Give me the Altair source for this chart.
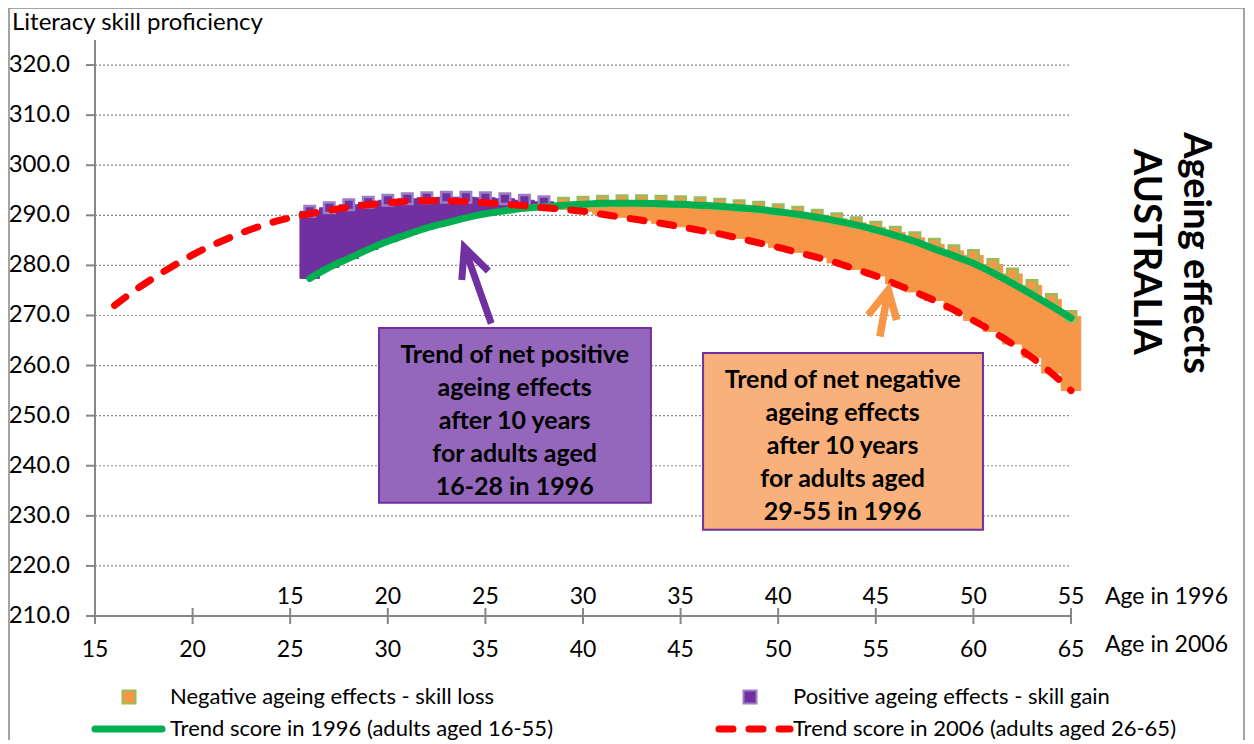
import altair as alt
import pandas as pd

FONT = "Lato"
GREY = "#868686"
PURPLE = "#7030A0"
ORANGE = "#F79646"
GREEN = "#00B050"
RED = "#FF0000"

# ---- data ----
ages_2006 = list(range(16, 66))
trend_2006 = [272.0, 274.9, 277.5, 279.9, 282.1, 284.0, 285.7, 287.2, 288.5, 289.5,
              290.3, 291.0, 291.6, 292.1, 292.5, 292.8, 292.9, 292.9, 292.7, 292.5,
              292.2, 291.9, 291.5, 291.2, 290.8, 290.2, 289.6, 289.0, 288.4, 287.7,
              287.0, 286.3, 285.4, 284.5, 283.6, 282.6, 281.6, 280.5, 279.2, 277.9,
              276.3, 274.7, 273.0, 271.1, 269.0, 266.8, 264.3, 261.6, 258.5, 255.0]

ages_1996 = list(range(16, 56))
trend_1996 = [277.4, 279.6, 281.4, 283.2, 284.8, 286.2, 287.5, 288.5, 289.5, 290.3,
              290.9, 291.4, 291.7, 292.0, 292.2, 292.4, 292.4, 292.4, 292.3, 292.2,
              292.0, 291.8, 291.5, 291.2, 290.7, 290.2, 289.6, 288.9, 288.1, 287.1,
              286.0, 284.8, 283.3, 281.9, 280.4, 278.5, 276.4, 274.2, 271.9, 269.5]

# top of the ageing-effect columns (markers), by 1996 age 16..55
effect_top = [290.8, 291.5, 292.1, 292.6, 293.0, 293.3, 293.5, 293.6, 293.6, 293.5,
              293.3, 293.0, 292.7, 292.4, 292.6, 292.8, 292.9, 292.9, 292.8, 292.7,
              292.5, 292.2, 291.9, 291.6, 291.1, 290.6, 290.0, 289.3, 288.5, 287.6,
              286.6, 285.5, 284.2, 282.9, 282.0, 280.2, 278.3, 276.0, 273.2, 269.8]

x_ticks = [15, 20, 25, 30, 35, 40, 45, 50, 55, 60, 65]
labels_1996 = [15, 20, 25, 30, 35, 40, 45, 50, 55]
y_ticks = [210, 220, 230, 240, 250, 260, 270, 280, 290, 300, 310, 320]

box_names = ["positive", "negative"]
box_x0 = [29.55, 46.15]
box_x1 = [43.48, 60.49]
box_y0 = [232.6, 227.2]
box_y1 = [267.5, 262.5]
box_fill = ["#9467BD", "#F9B07A"]
box_text = ["Trend of net positive\nageing effects\nafter 10 years\nfor adults aged\n16-28 in 1996",
            "Trend of net negative\nageing effects\nafter 10 years\nfor  adults aged\n29-55 in 1996"]
box_tx = [36.5, 53.3]
box_ty = [262.1, 257.1]   # first text line

# arrows: shaft bottom, tip, left wing, right wing
arrow_purple_x = [35.30, 33.92, 33.79, 35.15]
arrow_purple_y = [268.4, 283.6, 277.1, 278.9]
arrow_orange_x = [55.21, 55.64, 54.61, 56.07]
arrow_orange_y = [265.8, 275.1, 270.1, 269.1]

# ---- tables ----
df_red = pd.DataFrame({"age": ages_2006, "score": trend_2006})
df_green = pd.DataFrame({"age": [a + 10 for a in ages_1996], "score": trend_1996})
rows = []
for a, g, t in zip(ages_1996, trend_1996, effect_top):
    a06 = a + 10
    r = trend_2006[ages_2006.index(a06)]
    kind = "Positive" if a <= 28 else "Negative"
    low = g if kind == "Positive" else r
    rows.append({"age": a06, "x0": a06 - 0.5, "x1": a06 + 0.5, "low": low, "high": t, "kind": kind})
df_bars = pd.DataFrame(rows)

df_boxes = pd.DataFrame({"name": box_names, "x0": box_x0, "x1": box_x1, "y0": box_y0,
                         "y1": box_y1, "fill": box_fill, "text": box_text,
                         "tx": box_tx, "ty": box_ty})


def arrow_df(xs, ys):
    return pd.DataFrame({
        "x": [xs[0], xs[1], xs[2], xs[1], xs[3]],
        "y": [ys[0], ys[1], ys[2], ys[1], ys[3]],
        "part": ["shaft", "shaft", "head", "head", "head"],
        "ord": [0, 1, 0, 1, 2],
    })


df_arrow_p = arrow_df(arrow_purple_x, arrow_purple_y)
df_arrow_o = arrow_df(arrow_orange_x, arrow_orange_y)

xscale = alt.Scale(domain=[15, 65], nice=False, zero=False)
yscale = alt.Scale(domain=[210, 325], nice=False, zero=False)

W, H = 976, 576
ONE = pd.DataFrame({"a": [0]})


def X(f):
    return alt.X(f, scale=xscale, axis=None)


def Y(f):
    return alt.Y(f, scale=yscale, axis=None)


def px_text(txt, x, y, size, align="left", weight="normal", angle=0):
    return alt.Chart(pd.DataFrame({"t": [txt]})).mark_text(
        font=FONT, fontSize=size, fontWeight=weight, color="black", align=align,
        baseline="middle", angle=angle).encode(x=alt.value(x), y=alt.value(y), text="t:N")


def px_rule(x1, x2, y1, y2, **kw):
    return alt.Chart(ONE).mark_rule(**kw).encode(
        x=alt.value(x1), x2=alt.value(x2), y=alt.value(y1), y2=alt.value(y2))


# ---- axes drawn by hand through the scales ----
df_yt = pd.DataFrame({"v": y_ticks})
df_xt = pd.DataFrame({"v": x_ticks})

grid = alt.Chart(df_yt).transform_filter("datum.v > 210").mark_rule(
    color="#8a8a8a", strokeWidth=1.2, strokeDash=[2, 2]).encode(
    y=Y("v:Q"), x=alt.value(0), x2=alt.value(W))
y_tick = alt.Chart(df_yt).mark_rule(color=GREY, strokeWidth=2).encode(
    y=Y("v:Q"), x=alt.value(-9), x2=alt.value(0))
y_lab = alt.Chart(df_yt).mark_text(font=FONT, fontSize=24, color="black", align="right",
                                   baseline="middle").encode(
    y=Y("v:Q"), x=alt.value(-25), text=alt.Text("v:Q", format=".1f"))
y_dom = px_rule(0, 0, 0, H, color=GREY, strokeWidth=2)
x_dom = px_rule(0, W, H, H, color=GREY, strokeWidth=2)
x_tick = alt.Chart(df_xt).mark_rule(color=GREY, strokeWidth=2).encode(
    x=X("v:Q"), y=alt.value(H - 8), y2=alt.value(H + 8))
x_lab = alt.Chart(df_xt).mark_text(font=FONT, fontSize=23, color="black", align="center",
                                   baseline="middle").encode(
    x=X("v:Q"), y=alt.value(H + 34), text=alt.Text("v:Q", format="d"))
lab96 = alt.Chart(pd.DataFrame({"lab": labels_1996, "pos": [v + 10 for v in labels_1996]})).mark_text(
    font=FONT, fontSize=23, color="black", baseline="middle", align="center").encode(
    x=X("pos:Q"), y=alt.value(H - 19), text="lab:N")

# ---- data marks ----
kind_scale = alt.Scale(domain=["Negative", "Positive"], range=[ORANGE, PURPLE])
bars = alt.Chart(df_bars).mark_rect(strokeWidth=1).encode(
    x=X("x0:Q"), x2="x1:Q", y=Y("low:Q"), y2="high:Q",
    color=alt.Color("kind:N", scale=kind_scale, legend=None),
    stroke=alt.Stroke("kind:N", scale=kind_scale, legend=None),
)
sq_neg = alt.Chart(df_bars).transform_filter("datum.kind == 'Negative'").mark_square(
    size=110, fill=ORANGE, fillOpacity=1, stroke="#9BBB59", strokeWidth=2.5).encode(
    x=X("age:Q"), y=Y("high:Q"))
sq_pos = alt.Chart(df_bars).transform_filter("datum.kind == 'Positive'").mark_square(
    size=110, fill=PURPLE, fillOpacity=1, stroke="#9B7FC4", strokeWidth=2.5).encode(
    x=X("age:Q"), y=Y("high:Q"))

green_line = alt.Chart(df_green).mark_line(
    color=GREEN, strokeWidth=7, strokeCap="round", interpolate="monotone").encode(
    x=X("age:Q"), y=Y("score:Q"))
red_line = alt.Chart(df_red).mark_line(
    color=RED, strokeWidth=7, strokeCap="round", strokeDash=[14, 16],
    interpolate="monotone").encode(x=X("age:Q"), y=Y("score:Q"))

boxes = alt.Chart(df_boxes).mark_rect(stroke=PURPLE, strokeWidth=2).encode(
    x=X("x0:Q"), x2="x1:Q", y=Y("y0:Q"), y2="y1:Q",
    fill=alt.Fill("fill:N", scale=None))
box_txt = alt.Chart(df_boxes).mark_text(
    font=FONT, fontSize=25, fontWeight="bold", color="black", lineBreak="\n",
    lineHeight=33, align="center", baseline="middle").encode(
    x=X("tx:Q"), y=Y("ty:Q"), text="text:N")

arrow_p = alt.Chart(df_arrow_p).mark_line(color=PURPLE, strokeWidth=7, strokeCap="butt",
                                          strokeJoin="miter").encode(
    x=X("x:Q"), y=Y("y:Q"), detail="part:N", order="ord:Q")
arrow_o = alt.Chart(df_arrow_o).mark_line(color=ORANGE, strokeWidth=7.5, strokeCap="butt",
                                          strokeJoin="miter").encode(
    x=X("x:Q"), y=Y("y:Q"), detail="part:N", order="ord:Q")

decor = [
    px_text("Literacy skill proficiency", -83, -17, 24),
    px_text("Age in 1996", 1010, H - 19, 23),
    px_text("Age in 2006", 1010, H + 29, 23),
    px_text("Ageing effects", 1100, 213, 38, align="center", weight="bold", angle=90),
    px_text("AUSTRALIA", 1050, 212, 38, align="center", weight="bold", angle=90),
    px_text("Negative ageing effects - skill loss", 75, 657, 22),
    px_text("Positive ageing effects - skill gain", 698, 657, 22),
    px_text("Trend score in 1996 (adults aged 16-55)", 75, 689, 22),
    px_text("Trend score in 2006 (adults aged 26-65)", 698, 689, 22),
    alt.Chart(ONE).mark_square(size=170, fill=ORANGE, fillOpacity=1, stroke="#9BBB59",
                               strokeWidth=2).encode(x=alt.value(34), y=alt.value(657)),
    alt.Chart(ONE).mark_square(size=170, fill=PURPLE, fillOpacity=1, stroke="#9B7FC4",
                               strokeWidth=2).encode(x=alt.value(655), y=alt.value(657)),
    px_rule(0, 67, 689, 689, color=GREEN, strokeWidth=7, strokeCap="round"),
    px_rule(624, 695, 689, 689, color=RED, strokeWidth=7, strokeCap="round",
            strokeDash=[14, 16]),
    px_rule(-86, -86, -32, 700, color=GREY, strokeWidth=1.5),
    px_rule(-86, 1149, -32, -32, color=GREY, strokeWidth=1.5),
    px_rule(1149, 1149, -32, 700, color=GREY, strokeWidth=1.5),
]

chart = alt.layer(
    grid, bars, sq_neg, sq_pos, green_line, red_line,
    y_dom, x_dom, y_tick, y_lab, x_tick, x_lab, lab96,
    boxes, box_txt, arrow_p, arrow_o, *decor
).properties(
    width=W, height=H,
    autosize=alt.AutoSizeParams(type="none"),
    padding={"left": 87, "top": 32, "right": 175, "bottom": 128},
).configure(font=FONT).configure_view(stroke=None)

chart.save("out.html", embed_options={"renderer": "svg", "actions": False})
